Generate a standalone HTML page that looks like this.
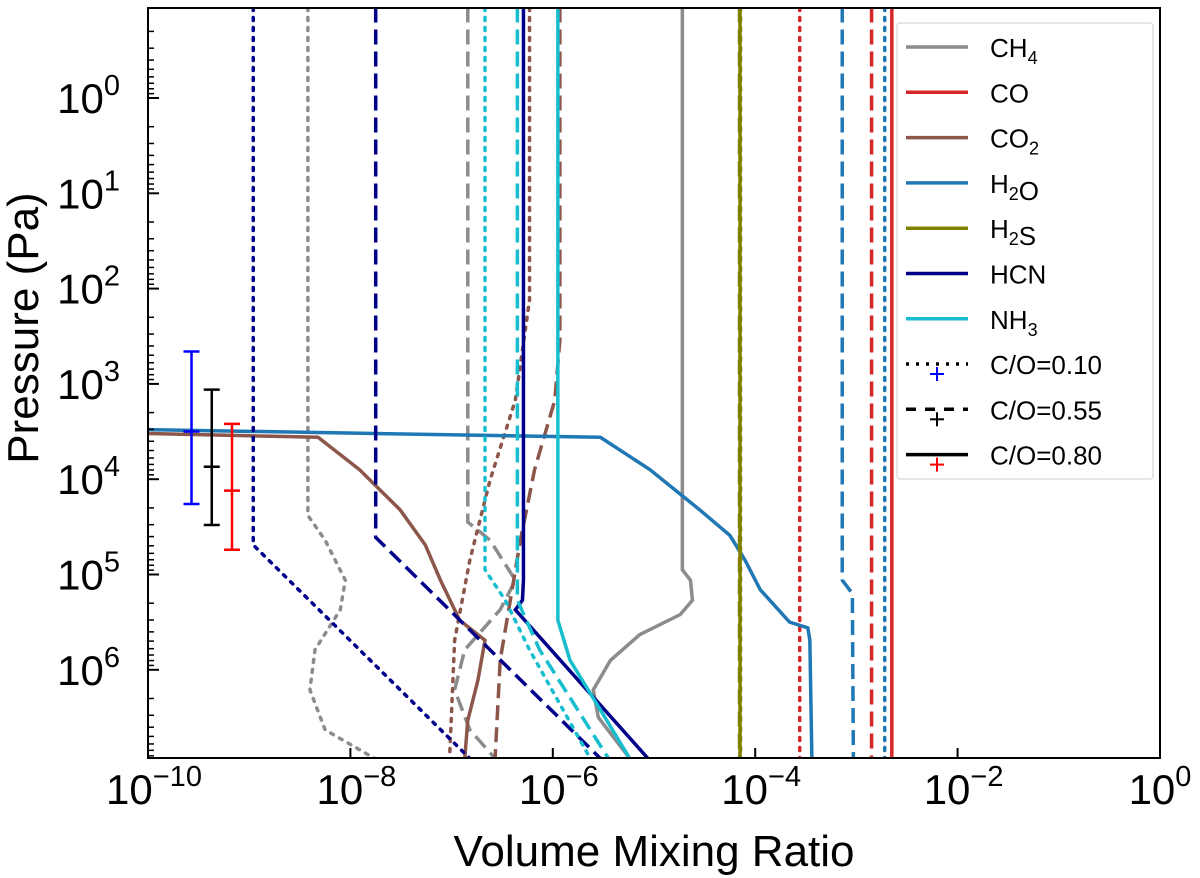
<!DOCTYPE html>
<html><head><meta charset="utf-8"><style>body{margin:0;background:#fff}svg{display:block}text{font-family:"Liberation Sans",sans-serif}</style></head>
<body>
<svg id="chart" width="1200" height="878"></svg>
<script>
const xTicks=[-10,-8,-6,-4,-2,0];
const yTicks=[0,1,2,3,4,5,6];
const species=["CH4","CO","CO2","H2O","H2S","HCN","NH3"];
const speciesLabels=["CH<sub>4</sub>","CO","CO<sub>2</sub>","H<sub>2</sub>O","H<sub>2</sub>S","HCN","NH<sub>3</sub>"];
const colors={CH4:"#8c8c8c",CO:"#d62728",CO2:"#8c564b",H2O:"#1f77b4",H2S:"#808000",HCN:"#00008b",NH3:"#17becf"};
// each series: [log10 VMR, log10 P(Pa)] points
const ch4_080=[[-4.72,-0.95],[-4.72,4.95],[-4.64,5.06],[-4.62,5.27],[-4.74,5.42],[-5.14,5.63],[-5.43,5.9],[-5.6,6.21],[-5.55,6.5],[-5.24,6.93]];
const ch4_055=[[-6.84,-0.95],[-6.84,4.45],[-6.62,4.64],[-6.37,5.06],[-6.52,5.37],[-6.87,5.79],[-6.97,6.21],[-6.82,6.63],[-6.57,6.93]];
const ch4_010=[[-8.42,-0.95],[-8.42,4.38],[-8.25,4.64],[-8.05,5.06],[-8.1,5.37],[-8.35,5.79],[-8.4,6.21],[-8.25,6.63],[-7.76,6.93]];
const co_080=[[-2.65,-0.95],[-2.65,6.93]];
const co_055=[[-2.85,-0.95],[-2.85,6.93]];
const co_010=[[-3.56,-0.95],[-3.56,6.93]];
const co2_080=[[-10,3.52],[-8.32,3.56],[-7.91,3.9],[-7.51,4.32],[-7.26,4.69],[-7.11,5.06],[-6.92,5.48],[-6.67,5.69],[-6.74,6.11],[-6.84,6.53],[-6.87,6.93]];
const co2_055=[[-5.93,-0.95],[-5.93,2.54],[-5.98,3.17],[-6.18,3.9],[-6.32,4.64],[-6.42,5.27],[-6.52,5.9],[-6.57,6.93]];
const co2_010=[[-6.23,-0.95],[-6.23,2.12],[-6.37,3.17],[-6.62,4.01],[-6.82,4.85],[-6.97,5.69],[-7.02,6.93]];
const h2o_080=[[-10,3.48],[-5.53,3.56],[-5.04,3.9],[-4.55,4.32],[-4.25,4.59],[-4.1,4.85],[-3.95,5.16],[-3.66,5.5],[-3.48,5.56],[-3.46,5.69],[-3.44,6.93]];
const h2o_055=[[-3.14,-0.95],[-3.14,5.06],[-3.04,5.2],[-3.03,6.93]];
const h2o_010=[[-2.72,-0.95],[-2.72,6.93]];
const h2s_080=[[-4.15,-0.95],[-4.15,6.93]];
const h2s_055=[[-4.155,-0.95],[-4.155,6.93]];
const h2s_010=[[-4.145,-0.95],[-4.145,6.93]];
const hcn_080=[[-6.29,-0.95],[-6.29,5.06],[-6.3,5.27],[-6.37,5.37],[-5.06,6.93]];
const hcn_055=[[-7.75,-0.95],[-7.75,4.61],[-5.53,6.93]];
const hcn_010=[[-8.96,-0.95],[-8.96,4.69],[-6.82,6.93]];
const nh3_080=[[-5.95,-0.95],[-5.95,5.48],[-5.83,5.9],[-5.53,6.42],[-5.24,6.93]];
const nh3_055=[[-6.35,-0.95],[-6.35,5.27],[-6.13,5.79],[-5.45,6.93]];
const nh3_010=[[-6.67,-0.95],[-6.67,4.95],[-6.47,5.27],[-6.23,5.79],[-5.63,6.93]];
const errX=[-9.57,-9.37,-9.17];
const errY=[3.5,3.87,4.12];
const errLo=[2.66,3.06,3.42];
const errHi=[4.26,4.48,4.74];
const errColors=["#0000ff","#000000","#ff0000"];

const L=148,R=1160,T=8,B=758;
const X=v=>L+(v+10)*(R-L)/10;
const Y=v=>98+v*95.3;
const svg=document.getElementById('chart');
const NS="http://www.w3.org/2000/svg";
function mk(t,a,p){const e=document.createElementNS(NS,t);for(const k in a)e.setAttribute(k,a[k]);(p||svg).appendChild(e);return e;}
const clip=mk('clipPath',{id:'pc'});mk('rect',{x:L,y:T,width:R-L,height:B-T},clip);
const g=mk('g',{'clip-path':'url(#pc)'});
const styles={"080":"","055":"15,7","010":"3,7"};
const all={CH4:[ch4_080,ch4_055,ch4_010],CO:[co_080,co_055,co_010],CO2:[co2_080,co2_055,co2_010],H2O:[h2o_080,h2o_055,h2o_010],H2S:[h2s_080,h2s_055,h2s_010],HCN:[hcn_080,hcn_055,hcn_010],NH3:[nh3_080,nh3_055,nh3_010]};
const keys=["080","055","010"];
species.forEach(s=>{all[s].forEach((d,i)=>{
 const p=mk('polyline',{points:d.map(q=>X(q[0])+','+Y(q[1])).join(' '),fill:'none',stroke:colors[s],'stroke-width':3.5,'stroke-dasharray':styles[keys[i]],'stroke-linecap':i==2?'round':'butt'},g);
 
 
});});
errX.forEach((x,i)=>{
 const eg=mk('g',{stroke:errColors[i],'stroke-width':2.5});
 
 
 const px=X(x);
 mk('line',{x1:px,x2:px,y1:Y(errLo[i]),y2:Y(errHi[i])},eg);
 mk('line',{x1:px-8,x2:px+8,y1:Y(errLo[i]),y2:Y(errLo[i])},eg);
 mk('line',{x1:px-8,x2:px+8,y1:Y(errHi[i]),y2:Y(errHi[i])},eg);
 mk('line',{x1:px-8,x2:px+8,y1:Y(errY[i]),y2:Y(errY[i])},eg);
});
const fr=mk('rect',{x:L,y:T,width:R-L,height:B-T,fill:'none',stroke:'#000','stroke-width':2});

xTicks.forEach(v=>{const x=X(v);mk('line',{x1:x,x2:x,y1:B,y2:B-10,stroke:'#000','stroke-width':2});
 const t=mk('text',{x:x+(v==0?0:6),y:B+46,'font-size':42,'text-anchor':'middle'});
 
 t.innerHTML='10<tspan dy="-18" font-size="29">'+(v==0?'0':'−'+(-v))+'</tspan>';});
for(let d=-1;d<=6;d++){for(let m=2;m<=9;m++){const v=d+Math.log10(m);const y=Y(v);if(y<T||y>B)continue;mk('line',{x1:L,x2:L+6,y1:y,y2:y,stroke:'#000','stroke-width':1.5});}}
yTicks.forEach(v=>{const y=Y(v);mk('line',{x1:L,x2:L+11,y1:y,y2:y,stroke:'#000','stroke-width':2});
 const t=mk('text',{x:120,y:y+15,'font-size':42,'text-anchor':'end'});
 
 t.innerHTML='10<tspan dy="-18" font-size="29">'+v+'</tspan>';});
const xl=mk('text',{x:654,y:866,'font-size':44,'text-anchor':'middle'});xl.textContent='Volume Mixing Ratio';

const yl=mk('text',{x:0,y:0,'font-size':44,'text-anchor':'middle',transform:'translate(38,328) rotate(-90)'});yl.textContent='Pressure (Pa)';

// legend
const lg=mk('g',{});
mk('rect',{x:897,y:23,width:256,height:456,fill:'#fff',stroke:'#ddd','stroke-width':1.5,rx:3},lg);
species.forEach((s,i)=>{const y=47+i*45.3;
 mk('line',{x1:906,x2:968,y1:y,y2:y,stroke:colors[s],'stroke-width':3.5},lg);
 const t=mk('text',{x:990,y:y+10,'font-size':26},lg);
 
 t.innerHTML=speciesLabels[i].replace(/<sub>(\d)<\/sub>/,'<tspan dy="7" font-size="18">$1</tspan>');});
const coLab=["C/O=0.10","C/O=0.55","C/O=0.80"],coDash=["3,7","10,9",""],coErr=["#0000ff","#000000","#ff0000"];
coLab.forEach((l,i)=>{const y=364+i*45.3;
 mk('line',{x1:906,x2:968,y1:y,y2:y,stroke:'#000','stroke-width':3.5,'stroke-dasharray':coDash[i]},lg);
 mk('line',{x1:937,x2:937,y1:y+3,y2:y+17,stroke:coErr[i],'stroke-width':2},lg);
 mk('line',{x1:930,x2:944,y1:y+10,y2:y+10,stroke:coErr[i],'stroke-width':2},lg);
 const t=mk('text',{x:990,y:y+10,'font-size':26},lg);t.textContent=l;
 });
</script>
</body></html>
